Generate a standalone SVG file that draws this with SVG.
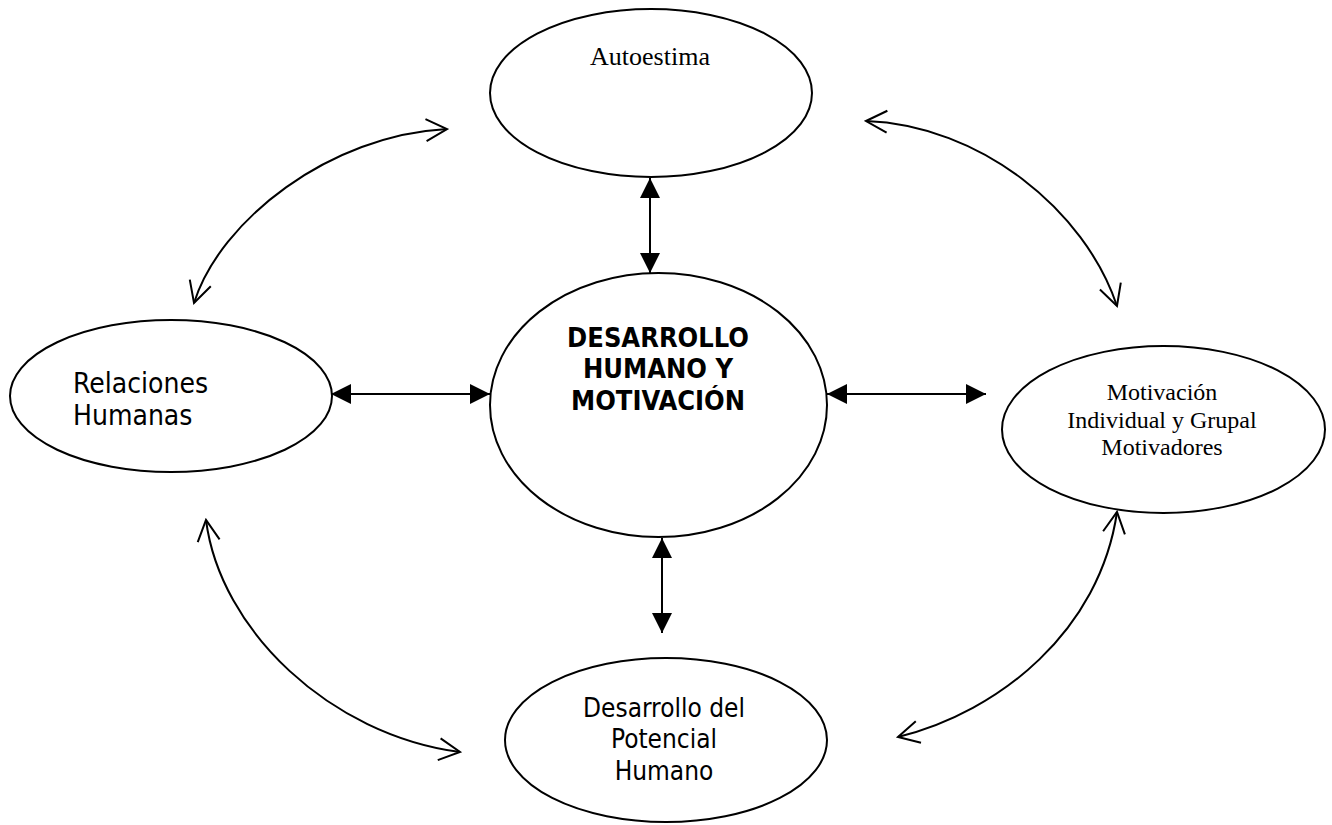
<svg xmlns="http://www.w3.org/2000/svg" width="1332" height="825" viewBox="0 0 1332 825">
<defs>
<style>
.node{fill:#fff;stroke:#000;stroke-width:2}
.serif{font-family:"Liberation Serif","Times New Roman",serif;fill:#000;text-anchor:middle}
.sans{font-family:"DejaVu Sans Condensed","DejaVu Sans",sans-serif;font-stretch:condensed;fill:#000}
.line{fill:none;stroke:#000;stroke-width:2}
</style>
<marker id="solid" viewBox="0 0 20 20" refX="20" refY="10" markerWidth="20" markerHeight="20" markerUnits="userSpaceOnUse" orient="auto-start-reverse">
<path d="M0,0 L20,10 L0,20 Z" fill="#000"/>
</marker>
<marker id="open" viewBox="0 0 24 26" refX="22" refY="13" markerWidth="24" markerHeight="26" markerUnits="userSpaceOnUse" orient="auto-start-reverse">
<path d="M1,2 L22,13 L1,24" fill="none" stroke="#000" stroke-width="2"/>
</marker>
</defs>
<rect width="1332" height="825" fill="#fff"/>
<g id="connectors">
<line class="line" x1="650" y1="178" x2="650" y2="273" marker-start="url(#solid)" marker-end="url(#solid)"/>
<line class="line" x1="662" y1="538" x2="662" y2="633" marker-start="url(#solid)" marker-end="url(#solid)"/>
<line class="line" x1="331" y1="394" x2="490" y2="394" marker-start="url(#solid)" marker-end="url(#solid)"/>
<line class="line" x1="827" y1="394" x2="986" y2="394" marker-start="url(#solid)" marker-end="url(#solid)"/>
<path class="line" d="M194,303 C220,220 330,135 447,129" marker-start="url(#open)" marker-end="url(#open)"/>
<path class="line" d="M866,121 C980,125 1085,210 1117,306" marker-start="url(#open)" marker-end="url(#open)"/>
<path class="line" d="M206,520 C220,630 330,735 460,752" marker-start="url(#open)" marker-end="url(#open)"/>
<path class="line" d="M898,737 C1000,712 1100,630 1117,512" marker-start="url(#open)" marker-end="url(#open)"/>
</g>
<g id="autoestima">
<ellipse class="node" cx="651" cy="93" rx="161" ry="84"/>
<text class="serif" x="650" y="65" font-size="26">Autoestima</text>
</g>
<g id="desarrollo-humano">
<ellipse class="node" cx="658.5" cy="405" rx="168.5" ry="132"/>
<text class="sans" x="658" text-anchor="middle" font-size="27" font-weight="bold"><tspan x="658" y="347">DESARROLLO</tspan><tspan x="658" y="378">HUMANO Y</tspan><tspan x="658" y="410">MOTIVACIÓN</tspan></text>
</g>
<g id="relaciones">
<ellipse class="node" cx="171" cy="396" rx="161" ry="76"/>
<text class="sans" font-size="28"><tspan x="73" y="393">Relaciones</tspan><tspan x="73" y="425">Humanas</tspan></text>
</g>
<g id="motivacion">
<ellipse class="node" cx="1163.5" cy="429.5" rx="161.5" ry="83.5"/>
<text class="serif" font-size="24"><tspan x="1162" y="400">Motivación</tspan><tspan x="1162" y="428">Individual y Grupal</tspan><tspan x="1162" y="455">Motivadores</tspan></text>
</g>
<g id="potencial">
<ellipse class="node" cx="666" cy="740" rx="161" ry="82"/>
<text class="sans" text-anchor="middle" font-size="26"><tspan x="664" y="717">Desarrollo del</tspan><tspan x="664" y="748">Potencial</tspan><tspan x="664" y="780">Humano</tspan></text>
</g>
</svg>
